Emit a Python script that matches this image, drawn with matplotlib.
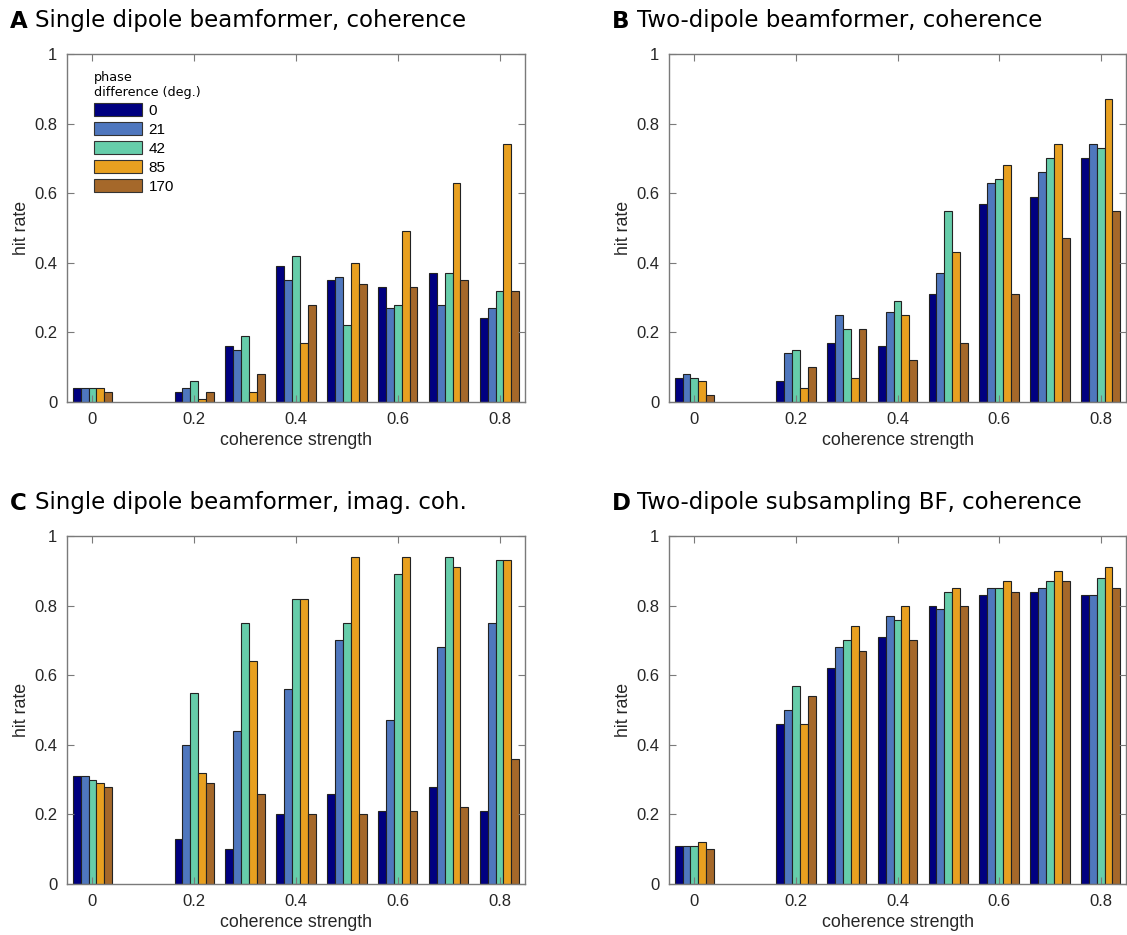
import numpy as np
import matplotlib
matplotlib.use('Agg')
from matplotlib import pyplot as plt
from matplotlib.patches import Patch

strength = [0, 0.2, 0.3, 0.4, 0.5, 0.6, 0.7, 0.8]
phases = ['0', '21', '42', '85', '170']
colors = ['#000080', '#4f77be', '#66cdaa', '#e8a020', '#a5682a']

# hit rate per phase difference (rows) and coherence strength (columns)
single_coh = [
    [0.04, 0.03, 0.16, 0.39, 0.35, 0.33, 0.37, 0.24],
    [0.04, 0.04, 0.15, 0.35, 0.36, 0.27, 0.28, 0.27],
    [0.04, 0.06, 0.19, 0.42, 0.22, 0.28, 0.37, 0.32],
    [0.04, 0.01, 0.03, 0.17, 0.40, 0.49, 0.63, 0.74],
    [0.03, 0.03, 0.08, 0.28, 0.34, 0.33, 0.35, 0.32],
]
two_coh = [
    [0.07, 0.06, 0.17, 0.16, 0.31, 0.57, 0.59, 0.70],
    [0.08, 0.14, 0.25, 0.26, 0.37, 0.63, 0.66, 0.74],
    [0.07, 0.15, 0.21, 0.29, 0.55, 0.64, 0.70, 0.73],
    [0.06, 0.04, 0.07, 0.25, 0.43, 0.68, 0.74, 0.87],
    [0.02, 0.10, 0.21, 0.12, 0.17, 0.31, 0.47, 0.55],
]
single_imag = [
    [0.31, 0.13, 0.10, 0.20, 0.26, 0.21, 0.28, 0.21],
    [0.31, 0.40, 0.44, 0.56, 0.70, 0.47, 0.68, 0.75],
    [0.30, 0.55, 0.75, 0.82, 0.75, 0.89, 0.94, 0.93],
    [0.29, 0.32, 0.64, 0.82, 0.94, 0.94, 0.91, 0.93],
    [0.28, 0.29, 0.26, 0.20, 0.20, 0.21, 0.22, 0.36],
]
two_sub = [
    [0.11, 0.46, 0.62, 0.71, 0.80, 0.83, 0.84, 0.83],
    [0.11, 0.50, 0.68, 0.77, 0.79, 0.85, 0.85, 0.83],
    [0.11, 0.57, 0.70, 0.76, 0.84, 0.85, 0.87, 0.88],
    [0.12, 0.46, 0.74, 0.80, 0.85, 0.87, 0.90, 0.91],
    [0.10, 0.54, 0.67, 0.70, 0.80, 0.84, 0.87, 0.85],
]

panels = [
    ('A', 'Single dipole beamformer, coherence', single_coh),
    ('B', 'Two-dipole beamformer, coherence', two_coh),
    ('C', 'Single dipole beamformer, imag. coh.', single_imag),
    ('D', 'Two-dipole subsampling BF, coherence', two_sub),
]

W, H = 1127, 935
fig = plt.figure(figsize=(W / 100, H / 100), dpi=100)

# axes boxes in pixels: left, top, right, bottom
boxes = [(67, 54, 525, 402), (669, 54, 1126, 402),
         (67, 536, 525, 884), (669, 536, 1126, 884)]

tick_font = 'Liberation Sans'
edge_grey = '#7a7a7a'
bw = 0.0155
x = np.array(strength)

for (letter, title, data), (l, t, r, b) in zip(panels, boxes):
    ax = fig.add_axes([l / W, 1 - b / H, (r - l) / W, (b - t) / H])
    for i, vals in enumerate(data):
        ax.bar(x + (i - 2) * bw, vals, width=bw, color=colors[i],
               edgecolor='#222222', linewidth=0.8, label=phases[i])
    ax.set_xlim(-0.05, 0.85)
    ax.set_ylim(0, 1)
    ax.set_xticks([0, 0.2, 0.4, 0.6, 0.8])
    ax.set_xticklabels(['0', '0.2', '0.4', '0.6', '0.8'])
    ax.set_yticks([0, 0.2, 0.4, 0.6, 0.8, 1])
    ax.set_yticklabels(['0', '0.2', '0.4', '0.6', '0.8', '1'])
    ax.tick_params(direction='in', top=True, right=True, length=5,
                   width=0.8, color=edge_grey, labelsize=12, pad=7)
    for lab in ax.get_xticklabels() + ax.get_yticklabels():
        lab.set_fontfamily(tick_font)
        lab.set_color('#262626')
    for s in ax.spines.values():
        s.set_color(edge_grey)
        s.set_linewidth(1.0)
    ax.set_xlabel('coherence strength', fontsize=12.8, family=tick_font,
                  color='#262626', labelpad=4)
    ax.set_ylabel('hit rate', fontsize=12.8, family=tick_font,
                  color='#262626', labelpad=3)
    ty = 1 - (t - 33) / H
    fig.text((l - 57) / W, ty, letter, fontsize=16.5,
             fontweight='bold', family='DejaVu Sans', va='center', ha='left')
    fig.text((l - 57 + 25) / W, ty, title, fontsize=16.5,
             family='DejaVu Sans', va='center', ha='left')

    if letter == 'A':
        handles = [Patch(facecolor=c, edgecolor='#333333', linewidth=0.8)
                   for c in colors]
        leg = ax.legend(handles, phases, loc='upper left',
                        bbox_to_anchor=(0.045, 0.97), frameon=False,
                        title='phase\ndifference (deg.)',
                        prop={'family': tick_font, 'size': 11},
                        handlelength=3.15, handleheight=0.95,
                        handletextpad=0.45, labelspacing=0.28,
                        borderaxespad=0.2, borderpad=0.2)
        leg.get_title().set_fontsize(9.2)
        leg.get_title().set_family('DejaVu Sans')
        leg._legend_box.align = 'left'

fig.savefig('out.png', dpi=100)
